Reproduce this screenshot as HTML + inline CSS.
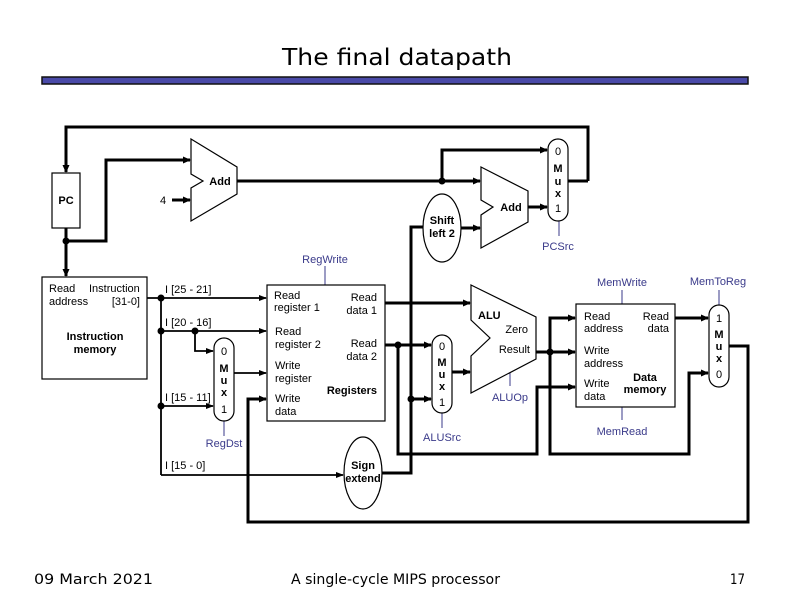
<!DOCTYPE html>
<html><head><meta charset="utf-8"><style>
html,body{margin:0;padding:0;background:#fff}
svg{display:block}
text{font-family:"Liberation Sans",Arial,sans-serif;font-size:11px;fill:#000}
.b{font-weight:bold}
.c{fill:#3a3a8a}
.t{stroke:#000;stroke-width:3;fill:none}
.n{stroke:#000;stroke-width:1.8;fill:none}
.ctl{stroke:#3a3a8a;stroke-width:1;fill:none}
.box{fill:#fff;stroke:#000;stroke-width:1.2}
</style></head><body>
<svg width="792" height="612" viewBox="0 0 792 612" xmlns="http://www.w3.org/2000/svg">
<defs>
<marker id="a" markerWidth="8" markerHeight="8" refX="7" refY="4" orient="auto" markerUnits="userSpaceOnUse"><path d="M0,0.5 L8,4 L0,7.5 z" fill="#000"/></marker>
<marker id="a2" markerWidth="8" markerHeight="8" refX="7" refY="4" orient="auto" markerUnits="userSpaceOnUse"><path d="M0,1 L8,4 L0,7 z" fill="#000"/></marker>
</defs>
<text x="397" y="65" text-anchor="middle" style="font-family:'DejaVu Sans',sans-serif;font-size:23px" textLength="230" lengthAdjust="spacingAndGlyphs">The final datapath</text>
<rect x="42" y="77" width="706" height="7" fill="#4a4aa8" stroke="#111" stroke-width="1.5"/>

<polyline class="t" points="588,181 588,127 66,127 66,172" marker-end="url(#a)"/>
<polyline class="t" points="66,228 66,276" marker-end="url(#a)"/>
<polyline class="t" points="66,241 106,241 106,160 190,160" marker-end="url(#a)"/>
<line class="t" x1="172" y1="200" x2="190" y2="200" marker-end="url(#a)"/>
<polyline class="t" points="237,181 480,181" marker-end="url(#a)"/>
<polyline class="t" points="442,181 442,150 547,150" marker-end="url(#a)"/>
<line class="t" x1="528" y1="207" x2="547" y2="207" marker-end="url(#a)"/>
<line class="t" x1="568" y1="181" x2="588" y2="181"/>
<line class="t" x1="461" y1="228" x2="480" y2="228" marker-end="url(#a)"/>
<polyline class="t" points="382,473 411,473 411,227 423,227"/>
<line class="t" x1="411" y1="399" x2="431" y2="399" marker-end="url(#a)"/>
<line class="t" x1="385" y1="303" x2="470" y2="303" marker-end="url(#a)"/>
<line class="t" x1="385" y1="345" x2="431" y2="345" marker-end="url(#a)"/>
<polyline class="t" points="398,345 398,454 537,454 537,387 575,387" marker-end="url(#a)"/>
<line class="t" x1="452" y1="372" x2="470" y2="372" marker-end="url(#a)"/>
<line class="t" x1="536" y1="352" x2="575" y2="352" marker-end="url(#a)"/>
<polyline class="t" points="550,352 550,318 575,318" marker-end="url(#a)"/>
<polyline class="t" points="550,352 550,454 689,454 689,373 708,373" marker-end="url(#a)"/>
<line class="t" x1="675" y1="318" x2="708" y2="318" marker-end="url(#a)"/>
<polyline class="t" points="729,346 748,346 748,522 248,522 248,399 266,399" marker-end="url(#a)"/>

<line class="n" x1="147" y1="298" x2="266" y2="298" marker-end="url(#a2)"/>
<line class="n" x1="161" y1="298" x2="161" y2="475"/>
<line class="n" x1="161" y1="331" x2="266" y2="331" marker-end="url(#a2)"/>
<polyline class="n" points="195,331 195,351 213,351" marker-end="url(#a2)"/>
<line class="n" x1="161" y1="406" x2="213" y2="406" marker-end="url(#a2)"/>
<line class="n" x1="234" y1="373" x2="266" y2="373" marker-end="url(#a2)"/>
<line class="n" x1="161" y1="475" x2="343" y2="475" marker-end="url(#a2)"/>

<g fill="#000">
<circle cx="66" cy="241" r="3.5"/><circle cx="442" cy="181" r="3.5"/>
<circle cx="161" cy="298" r="3.5"/><circle cx="161" cy="331" r="3.5"/><circle cx="195" cy="331" r="3.5"/><circle cx="161" cy="406" r="3.5"/>
<circle cx="398" cy="345" r="3.5"/><circle cx="411" cy="399" r="3.5"/><circle cx="550" cy="352" r="3.5"/>
</g>

<line class="ctl" x1="325" y1="266" x2="325" y2="285"/>
<line class="ctl" x1="559" y1="221" x2="559" y2="236"/>
<line class="ctl" x1="224" y1="421" x2="224" y2="436"/>
<line class="ctl" x1="442" y1="413" x2="442" y2="428"/>
<line class="ctl" x1="510" y1="373" x2="510" y2="386"/>
<line class="ctl" x1="622" y1="290" x2="622" y2="304"/>
<line class="ctl" x1="622" y1="407" x2="622" y2="420"/>
<line class="ctl" x1="719" y1="290" x2="719" y2="305"/>

<rect class="box" x="52" y="173" width="28" height="55"/>
<text x="66" y="204" text-anchor="middle" class="b">PC</text>
<text x="163" y="204" text-anchor="middle">4</text>
<polygon class="box" points="191,139 237,167 237,194 191,221 191,188 203,181 191,174"/>
<text x="220" y="185" text-anchor="middle" class="b">Add</text>
<polygon class="box" points="481,167 528,191 528,222 481,248 481,215 493,207 481,200"/>
<text x="511" y="211" text-anchor="middle" class="b">Add</text>
<ellipse class="box" cx="442" cy="228" rx="19" ry="34"/>
<text x="442" y="224" text-anchor="middle" class="b">Shift</text>
<text x="442" y="237" text-anchor="middle" class="b">left 2</text>
<rect class="box" x="548" y="139" width="20" height="82" rx="10"/>
<text x="558" y="155" text-anchor="middle">0</text>
<text x="558" y="172" text-anchor="middle" class="b">M</text>
<text x="558" y="185" text-anchor="middle" class="b">u</text>
<text x="558" y="197" text-anchor="middle" class="b">x</text>
<text x="558" y="212" text-anchor="middle">1</text>
<text x="558" y="250" text-anchor="middle" class="c">PCSrc</text>

<rect class="box" x="42" y="277" width="105" height="102"/>
<text x="49" y="292">Read</text><text x="89" y="292">Instruction</text>
<text x="49" y="305">address</text><text x="140" y="305" text-anchor="end">[31-0]</text>
<text x="95" y="340" text-anchor="middle" class="b">Instruction</text>
<text x="95" y="353" text-anchor="middle" class="b">memory</text>
<text x="165" y="293">I [25 - 21]</text>
<text x="165" y="326">I [20 - 16]</text>
<text x="165" y="401">I [15 - 11]</text>
<text x="165" y="469">I [15 - 0]</text>

<rect class="box" x="214" y="338" width="20" height="83" rx="10"/>
<text x="224" y="355" text-anchor="middle">0</text>
<text x="224" y="372" text-anchor="middle" class="b">M</text>
<text x="224" y="384" text-anchor="middle" class="b">u</text>
<text x="224" y="396" text-anchor="middle" class="b">x</text>
<text x="224" y="413" text-anchor="middle">1</text>
<text x="224" y="447" text-anchor="middle" class="c">RegDst</text>

<text x="325" y="263" text-anchor="middle" class="c">RegWrite</text>
<rect class="box" x="267" y="285" width="118" height="136"/>
<text x="274" y="299">Read</text><text x="274" y="311">register 1</text>
<text x="377" y="301" text-anchor="end">Read</text><text x="377" y="314" text-anchor="end">data 1</text>
<text x="275" y="335">Read</text><text x="275" y="348">register 2</text>
<text x="377" y="347" text-anchor="end">Read</text><text x="377" y="360" text-anchor="end">data 2</text>
<text x="275" y="369">Write</text><text x="275" y="382">register</text>
<text x="377" y="394" text-anchor="end" class="b">Registers</text>
<text x="275" y="402">Write</text><text x="275" y="415">data</text>

<ellipse class="box" cx="363" cy="473" rx="19" ry="36"/>
<text x="363" y="469" text-anchor="middle" class="b">Sign</text>
<text x="363" y="482" text-anchor="middle" class="b">extend</text>

<rect class="box" x="432" y="335" width="20" height="78" rx="10"/>
<text x="442" y="350" text-anchor="middle">0</text>
<text x="442" y="366" text-anchor="middle" class="b">M</text>
<text x="442" y="378" text-anchor="middle" class="b">u</text>
<text x="442" y="390" text-anchor="middle" class="b">x</text>
<text x="442" y="406" text-anchor="middle">1</text>
<text x="442" y="441" text-anchor="middle" class="c">ALUSrc</text>

<polygon class="box" points="471,285 536,317 536,359 471,393 471,356 490,338 471,320"/>
<text x="478" y="319" class="b">ALU</text>
<text x="528" y="333" text-anchor="end">Zero</text>
<text x="530" y="353" text-anchor="end">Result</text>
<text x="510" y="401" text-anchor="middle" class="c">ALUOp</text>

<text x="622" y="286" text-anchor="middle" class="c">MemWrite</text>
<rect class="box" x="576" y="304" width="99" height="103"/>
<text x="584" y="320">Read</text><text x="584" y="332">address</text>
<text x="669" y="320" text-anchor="end">Read</text><text x="669" y="332" text-anchor="end">data</text>
<text x="584" y="354">Write</text><text x="584" y="367">address</text>
<text x="584" y="387">Write</text><text x="584" y="400">data</text>
<text x="645" y="381" text-anchor="middle" class="b">Data</text>
<text x="645" y="393" text-anchor="middle" class="b">memory</text>
<text x="622" y="435" text-anchor="middle" class="c">MemRead</text>

<text x="718" y="285" text-anchor="middle" class="c">MemToReg</text>
<rect class="box" x="709" y="305" width="20" height="82" rx="10"/>
<text x="719" y="322" text-anchor="middle">1</text>
<text x="719" y="338" text-anchor="middle" class="b">M</text>
<text x="719" y="350" text-anchor="middle" class="b">u</text>
<text x="719" y="362" text-anchor="middle" class="b">x</text>
<text x="719" y="378" text-anchor="middle">0</text>

<text x="34" y="584" style="font-family:'DejaVu Sans',sans-serif;font-size:14px" textLength="119" lengthAdjust="spacingAndGlyphs">09 March 2021</text>
<text x="291" y="584" style="font-family:'DejaVu Sans',sans-serif;font-size:14px" textLength="209" lengthAdjust="spacingAndGlyphs">A single-cycle MIPS processor</text>
<text x="730" y="584" style="font-family:'DejaVu Sans',sans-serif;font-size:14px" textLength="15" lengthAdjust="spacingAndGlyphs">17</text>
</svg>
</body></html>
